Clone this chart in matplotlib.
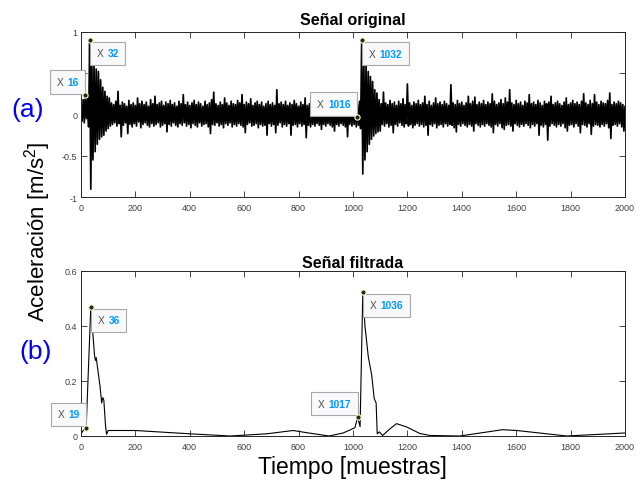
import numpy as np
import matplotlib
matplotlib.use("Agg")
import matplotlib.pyplot as plt
from matplotlib.offsetbox import TextArea, HPacker, AnnotationBbox

plt.rcParams['font.family'] = ['Liberation Sans', 'DejaVu Sans']
plt.rcParams['mathtext.fontset'] = 'custom'
plt.rcParams['mathtext.rm'] = 'Liberation Sans'
plt.rcParams['mathtext.it'] = 'Liberation Sans:italic'

# ---- original signal: local maxima (every 8 samples) and local minima
# (half a step later) ----
t_raw_hi = np.arange(0, 2001, 8)
t_raw_lo = t_raw_hi + 4
raw_hi = [
    0.05, 0.18, 0.234, 0.20, 0.905, 0.62, 0.60, 0.55, 0.52, 0.42, 0.33, 0.28, 0.22, 0.20,
    0.14, 0.12, 0.16, 0.28, 0.11, 0.15, 0.13, 0.10, 0.17, 0.12,
    0.14, 0.11, 0.20, 0.13, 0.16, 0.12, 0.15, 0.10, 0.18, 0.13,
    0.22, 0.12, 0.14, 0.16, 0.11, 0.15, 0.13, 0.17, 0.12, 0.14,
    0.10, 0.16, 0.13, 0.24, 0.12, 0.15, 0.11, 0.14, 0.17, 0.12,
    0.15, 0.13, 0.10, 0.16, 0.12, 0.14, 0.18, 0.27, 0.13, 0.11,
    0.15, 0.12, 0.20, 0.14, 0.11, 0.16, 0.13, 0.12, 0.17, 0.14,
    0.24, 0.12, 0.15, 0.13, 0.19, 0.11, 0.14, 0.16, 0.12, 0.15,
    0.10, 0.13, 0.16, 0.12, 0.14, 0.11, 0.30, 0.13, 0.15, 0.12,
    0.16, 0.11, 0.14, 0.12, 0.17, 0.13, 0.10, 0.15, 0.12, 0.20,
    0.11, 0.13, 0.09, 0.12, 0.10, 0.14, 0.11, 0.09, 0.13, 0.10,
    0.12, 0.09, 0.11, 0.13, 0.10, 0.12, 0.09, 0.11, 0.10, 0.13, 0.12,
    0.14, 0.17, 0.12, 0.16,
    0.90,
    0.62, 0.60, 0.52, 0.46, 0.40, 0.30, 0.26,
    0.18, 0.13, 0.27, 0.14, 0.12, 0.17, 0.13, 0.15, 0.11, 0.16,
    0.13, 0.19, 0.12, 0.37, 0.14, 0.11, 0.15, 0.13, 0.17, 0.12,
    0.14, 0.22, 0.12, 0.16, 0.11, 0.14, 0.20, 0.13, 0.15, 0.12,
    0.16, 0.13, 0.11, 0.36, 0.14, 0.12, 0.17, 0.13, 0.15, 0.11,
    0.14, 0.22, 0.13, 0.16, 0.21, 0.12, 0.15, 0.13, 0.17, 0.12,
    0.15, 0.13, 0.25, 0.16, 0.12, 0.14, 0.18, 0.13, 0.20, 0.15,
    0.30, 0.14, 0.12, 0.17, 0.13, 0.15, 0.11, 0.16, 0.14, 0.24,
    0.13, 0.15, 0.12, 0.17, 0.14, 0.11, 0.16, 0.13, 0.15, 0.22,
    0.12, 0.14, 0.16, 0.13, 0.11, 0.15, 0.20, 0.12, 0.14, 0.17,
    0.13, 0.15, 0.12, 0.16, 0.25, 0.14, 0.12, 0.17, 0.13, 0.24,
    0.15, 0.12, 0.16, 0.14, 0.13, 0.17, 0.26, 0.12, 0.15, 0.13,
    0.16, 0.14, 0.12, 0.10,
]
raw_lo = [
    -0.08, -0.10, -0.05, -0.15, -0.905, -0.55, -0.45, -0.36, -0.30, -0.27, -0.25, -0.20, -0.17, -0.14,
    -0.12, -0.10, -0.14, -0.11, -0.27, -0.13, -0.10, -0.23, -0.12, -0.15,
    -0.11, -0.14, -0.09, -0.16, -0.12, -0.10, -0.13, -0.15, -0.11, -0.14,
    -0.12, -0.10, -0.15, -0.13, -0.11, -0.21, -0.12, -0.14, -0.10, -0.13,
    -0.15, -0.11, -0.13, -0.10, -0.14, -0.12, -0.16, -0.11, -0.13, -0.15,
    -0.10, -0.14, -0.12, -0.11, -0.15, -0.23, -0.12, -0.13, -0.10, -0.14,
    -0.12, -0.16, -0.11, -0.13, -0.10, -0.15, -0.12, -0.14, -0.11, -0.13,
    -0.15, -0.22, -0.12, -0.10, -0.14, -0.13, -0.11, -0.16, -0.12, -0.14,
    -0.13, -0.25, -0.11, -0.14, -0.12, -0.22, -0.13, -0.10, -0.15, -0.12,
    -0.14, -0.11, -0.25, -0.13, -0.12, -0.15, -0.11, -0.14, -0.12, -0.28,
    -0.13, -0.15, -0.12, -0.14, -0.11, -0.13, -0.18, -0.12, -0.14, -0.11,
    -0.13, -0.15, -0.20, -0.12, -0.14, -0.11, -0.13, -0.15, -0.27, -0.12, -0.14,
    -0.12, -0.15, -0.13, -0.17,
    -0.72,
    -0.55, -0.45, -0.36, -0.30, -0.26, -0.23, -0.21,
    -0.20, -0.12, -0.14, -0.11, -0.15, -0.13, -0.22, -0.12, -0.14, -0.10,
    -0.13, -0.15, -0.11, -0.14, -0.12, -0.16, -0.13, -0.11, -0.14, -0.12,
    -0.15, -0.13, -0.25, -0.12, -0.14, -0.11, -0.16, -0.13, -0.12, -0.15,
    -0.11, -0.14, -0.12, -0.13, -0.16, -0.21, -0.12, -0.14, -0.11, -0.13,
    -0.15, -0.12, -0.14, -0.20, -0.11, -0.13, -0.15, -0.12, -0.14, -0.11,
    -0.13, -0.15, -0.22, -0.12, -0.14, -0.11, -0.16, -0.18, -0.13, -0.12,
    -0.14, -0.20, -0.11, -0.13, -0.15, -0.12, -0.14, -0.11, -0.13, -0.16,
    -0.12, -0.14, -0.11, -0.25, -0.13, -0.15, -0.12, -0.31, -0.14, -0.11,
    -0.13, -0.15, -0.12, -0.14, -0.11, -0.16, -0.20, -0.13, -0.12, -0.15,
    -0.11, -0.14, -0.22, -0.12, -0.13, -0.15, -0.11, -0.24, -0.14, -0.12,
    -0.13, -0.15, -0.12, -0.14, -0.11, -0.16, -0.29, -0.13, -0.12, -0.14,
    -0.11, -0.15, -0.20, -0.12,
]

# ---- filtered signal ----
t_filt = [0, 8, 19, 36, 50, 53, 56, 62, 70, 76, 80, 84, 90, 94, 100, 200, 400,
          548, 683, 780, 830, 912, 964, 1007, 1017, 1026, 1036, 1044, 1056,
          1069, 1078, 1085, 1089, 1097, 1109, 1136, 1160, 1197, 1246, 1283,
          1393, 1550, 1602, 1786, 2000]
y_filt = [0.008, 0.02, 0.03, 0.469, 0.29, 0.275, 0.285, 0.24, 0.18, 0.12, 0.14,
          0.13, 0.04, 0.006, 0.02, 0.02, 0.008, 0.0, 0.008, 0.02, 0.012, 0.0,
          0.011, 0.03, 0.069, 0.034, 0.524, 0.40, 0.29, 0.22, 0.136, 0.12,
          0.008, 0.015, 0.002, 0.026, 0.045, 0.033, 0.009, 0.002, 0.0, 0.023,
          0.02, 0.0, 0.011]

# ---- data tips ----
raw_tip_x = [16, 32, 1016, 1032]
raw_tip_y = [0.234, 0.905, -0.036, 0.90]
raw_tip_side = ['left', 'right', 'left', 'right']
filt_tip_x = [19, 36, 1017, 1036]
filt_tip_y = [0.03, 0.469, 0.069, 0.524]
filt_tip_side = ['left', 'right', 'left', 'right']

x_ticks = list(range(0, 2001, 200))
x_ticklabels = [str(v) for v in x_ticks]
raw_yticks = [-1, -0.5, 0, 0.5, 1]
raw_yticklabels = ['-1', '-0.5', '0', '', '1']   # 0.5 sits under the X 16 tip
filt_yticks = [0, 0.2, 0.4, 0.6]
filt_yticklabels = ['0', '0.2', '0.4', '0.6']

W, H = 636, 485
fig = plt.figure(figsize=(W / 100, H / 100), dpi=100)
ax1 = fig.add_axes([81 / W, 1 - 198 / H, 544 / W, 165 / H])
ax2 = fig.add_axes([81 / W, 1 - 437 / H, 544 / W, 165 / H])

AX_COL = '#262626'


def style(ax, yticks, ylabels, ylim):
    ax.set_xlim(0, 2000)
    ax.set_ylim(*ylim)
    ax.set_xticks(x_ticks)
    ax.set_xticklabels(x_ticklabels)
    ax.set_yticks(yticks)
    ax.set_yticklabels(ylabels)
    ax.tick_params(direction='in', length=4, width=0.6, color=AX_COL,
                   labelcolor='#404040', labelsize=6.5, top=True, right=True)
    ax.tick_params(axis='x', pad=4.5)
    ax.tick_params(axis='y', pad=2.5)
    for s in ax.spines.values():
        s.set_color(AX_COL)
        s.set_linewidth(0.7)


def data_tip(ax, x, y, side):
    lab = TextArea("X", textprops=dict(color='#505050', fontsize=7.3))
    val = TextArea(f"{x}", textprops=dict(color='#0099FF', fontsize=7.3,
                                          fontweight='bold'))
    box = HPacker(children=[lab, val], align='baseline', pad=0, sep=3)
    pad_pt = 0.66 * 7.3
    if side == 'right':
        align, off = (0, 1), (pad_pt, -pad_pt - 1.2)
    else:
        align, off = (1, 0), (-pad_pt, pad_pt + 1.2)
    ab = AnnotationBbox(box, (x, y), xybox=off, xycoords='data',
                        boxcoords='offset points', box_alignment=align,
                        frameon=True, pad=0.66, fontsize=7.3,
                        bboxprops=dict(facecolor='#F9F9FB', edgecolor='#A8A8A8',
                                       linewidth=0.8),
                        annotation_clip=False, zorder=6)
    ab.set_clip_on(False)
    ax.add_artist(ab)
    ax.plot([x], [y], 'o', ms=3.8, mfc='#262626', mec='#FFFFC0', mew=0.8,
            zorder=7, clip_on=False)


# top: original signal traced through its alternating maxima and minima
style(ax1, raw_yticks, raw_yticklabels, (-1, 1))
t_trace = np.column_stack([t_raw_hi, t_raw_lo]).ravel()
y_trace = np.column_stack([raw_hi, raw_lo]).ravel()
ax1.plot(t_trace, y_trace, color='black', lw=1.25)
for x, y, s in zip(raw_tip_x, raw_tip_y, raw_tip_side):
    data_tip(ax1, x, y, s)

# bottom: filtered signal
style(ax2, filt_yticks, filt_yticklabels, (0, 0.6))
ax2.plot(t_filt, y_filt, color='black', lw=0.8)
for x, y, s in zip(filt_tip_x, filt_tip_y, filt_tip_side):
    data_tip(ax2, x, y, s)

# titles and labels
fig.text(353 / W, 1 - 25 / H, 'Señal original', ha='center', va='baseline',
         fontsize=11.5, fontweight='bold')
fig.text(353 / W, 1 - 268 / H, 'Señal filtrada', ha='center', va='baseline',
         fontsize=11.5, fontweight='bold')
fig.text(38 / W, 1 - 232 / H, r'Aceleración [m/s$^{\mathregular{2}}$]',
         rotation=90, ha='center', va='center', fontsize=16)
fig.text(352 / W, 1 - 468 / H, 'Tiempo [muestras]', ha='center', va='center',
         fontsize=16.5)
fig.text(27.5 / W, 1 - 110.5 / H, '(a)', color='#0000FF', ha='center',
         va='center', fontsize=19)
fig.text(35.5 / W, 1 - 352 / H, '(b)', color='#0000FF', ha='center',
         va='center', fontsize=19)

fig.savefig('out.png', dpi=100)
